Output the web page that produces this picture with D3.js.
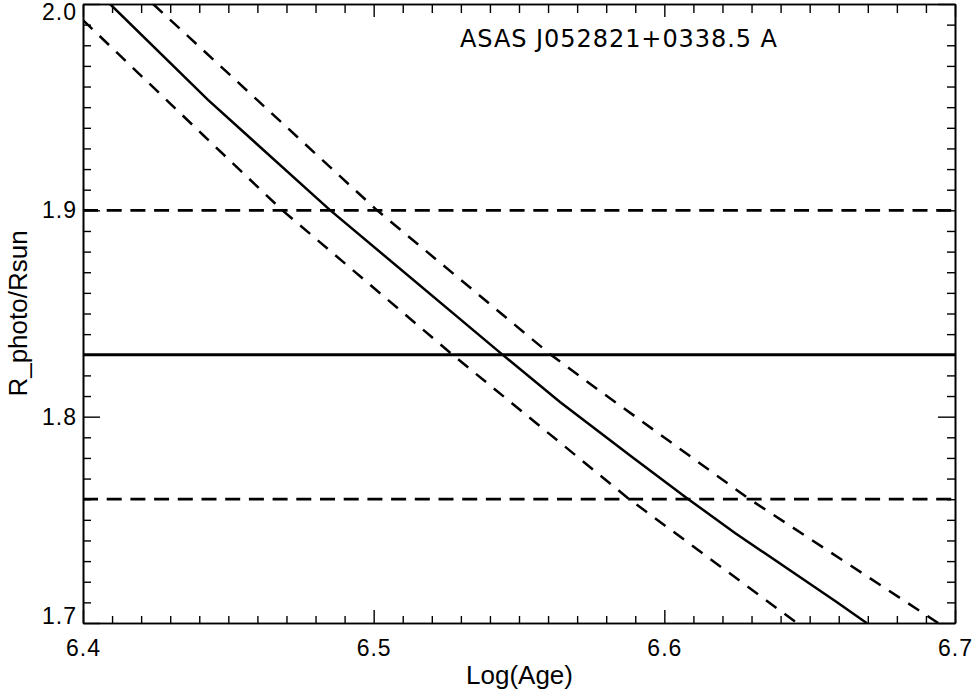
<!DOCTYPE html>
<html>
<head>
<meta charset="utf-8">
<script src="https://cdn.jsdelivr.net/npm/d3@7"></script>
<style>
  html, body { margin: 0; padding: 0; background: #fff; }
  svg { display: block; }
</style>
</head>
<body>
<svg id="chart" width="973" height="692"></svg>
<script>
// ---- data ----
const title = "ASAS J052821+0338.5 A";
const xLabel = "Log(Age)";
const yLabel = "R_photo/Rsun";
const xTickLabels = ["6.4", "6.5", "6.6", "6.7"];
const yTickLabels = ["1.7", "1.8", "1.9", "2.0"];

// model track: log(age) vs radius
const trackAge    = [6.4093, 6.4430, 6.4850, 6.5441, 6.5641, 6.5889, 6.6078, 6.6243, 6.6594, 6.6697];
const trackR      = [2.0000, 1.9535, 1.9001, 1.8303, 1.8071, 1.7804, 1.7605, 1.7436, 1.7101, 1.6999];
// upper / lower bounds of the track
const upperAge    = [6.4241, 6.4599, 6.5011, 6.5607, 6.5727, 6.6288, 6.6942];
const upperR      = [2.0000, 1.9535, 1.9001, 1.8303, 1.8177, 1.7605, 1.7000];
const lowerAge    = [6.4000, 6.4413, 6.4685, 6.5269, 6.5875, 6.6456];
const lowerR      = [1.9922, 1.9365, 1.9001, 1.8303, 1.7605, 1.7000];

// measured radius with errors
const radiusValue = 1.830;
const radiusLow   = 1.760;
const radiusHigh  = 1.900;

// ---- layout ----
const svg = d3.select("#chart");
const L = 83, R = 955, T = 4, B = 623;
const x = d3.scaleLinear().domain([6.4, 6.7]).range([L, R]);
const y = d3.scaleLinear().domain([1.7, 2.0]).range([B, T]);

svg.append("defs").append("clipPath").attr("id", "plotclip")
  .append("rect").attr("x", L).attr("y", T).attr("width", R - L).attr("height", B - T);

const plot = svg.append("g").attr("clip-path", "url(#plotclip)");
const line = d3.line().x(d => x(d[0])).y(d => y(d[1]));

const zip = (a, b) => a.map((v, i) => [v, b[i]]);

// horizontal measurement lines
[[radiusValue, null], [radiusLow, "15,8.7"], [radiusHigh, "15,8.7"]].forEach(([v, dash]) => {
  plot.append("path")
    .attr("d", line([[6.4, v], [6.7, v]]))
    .attr("fill", "none").attr("stroke", "#000")
    .attr("stroke-width", 2.8)
    .attr("stroke-dasharray", dash);
});

// tracks
plot.append("path").attr("d", line(zip(trackAge, trackR)))
  .attr("fill", "none").attr("stroke", "#000").attr("stroke-width", 2.5);
plot.append("path").attr("d", line(zip(upperAge, upperR)))
  .attr("fill", "none").attr("stroke", "#000").attr("stroke-width", 2.5)
  .attr("stroke-dasharray", "13,10");
plot.append("path").attr("d", line(zip(lowerAge, lowerR)))
  .attr("fill", "none").attr("stroke", "#000").attr("stroke-width", 2.5)
  .attr("stroke-dasharray", "13,10");

// ---- axes ----
const xMajor = xTickLabels.map(Number);
const yMajor = yTickLabels.map(Number);
const xMinor = x.ticks(30).filter(v => !xMajor.some(m => Math.abs(m - v) < 1e-9));
const yMinor = y.ticks(30).filter(v => !yMajor.some(m => Math.abs(m - v) < 1e-9));

function styleAxis(g) {
  g.selectAll("path.domain").attr("stroke", "#000").attr("stroke-width", 1.6);
  g.selectAll(".tick line").attr("stroke", "#000").attr("stroke-width", 1.4);
}

const fontTicks = "'Liberation Sans', Arial, sans-serif";

// bottom
const gB = svg.append("g").attr("transform", `translate(0,${B})`)
  .call(d3.axisBottom(x).tickValues(xMajor).tickSize(-13).tickPadding(17)
        .tickFormat((d, i) => xTickLabels[i]).tickSizeOuter(0));
styleAxis(gB);
gB.selectAll("text").attr("font-family", fontTicks).attr("font-size", 23)
  .attr("fill", "#000").attr("letter-spacing", "1px");
svg.append("g").attr("transform", `translate(0,${B})`)
  .call(d3.axisBottom(x).tickValues(xMinor).tickSize(-7).tickFormat("").tickSizeOuter(0))
  .call(styleAxis);

// top
svg.append("g").attr("transform", `translate(0,${T})`)
  .call(d3.axisTop(x).tickValues(xMajor).tickSize(-13).tickFormat("").tickSizeOuter(0))
  .call(styleAxis);
svg.append("g").attr("transform", `translate(0,${T})`)
  .call(d3.axisTop(x).tickValues(xMinor).tickSize(-9).tickFormat("").tickSizeOuter(0))
  .call(styleAxis);

// left
const gL = svg.append("g").attr("transform", `translate(${L},0)`)
  .call(d3.axisLeft(y).tickValues(yMajor).tickSize(-17).tickPadding(6)
        .tickFormat((d, i) => yTickLabels[i]).tickSizeOuter(0));
styleAxis(gL);
gL.selectAll("text").attr("font-family", fontTicks).attr("font-size", 23)
  .attr("fill", "#000").attr("letter-spacing", "1px")
  .attr("dy", d => d === 1.7 ? "0em" : "0.32em")
  .attr("transform", d => d === 2.0 ? "translate(0,8.5)" : "");
svg.append("g").attr("transform", `translate(${L},0)`)
  .call(d3.axisLeft(y).tickValues(yMinor).tickSize(-8).tickFormat("").tickSizeOuter(0))
  .call(styleAxis);

// right
svg.append("g").attr("transform", `translate(${R},0)`)
  .call(d3.axisRight(y).tickValues(yMajor).tickSize(-17).tickFormat("").tickSizeOuter(0))
  .call(styleAxis);
svg.append("g").attr("transform", `translate(${R},0)`)
  .call(d3.axisRight(y).tickValues(yMinor).tickSize(-8).tickFormat("").tickSizeOuter(0))
  .call(styleAxis);

// ---- titles ----
svg.append("text")
  .attr("x", 460).attr("y", 47)
  .attr("font-family", "'DejaVu Sans', sans-serif")
  .attr("font-size", 24)
  .attr("fill", "#000")
  .attr("textLength", 317).attr("lengthAdjust", "spacing")
  .text(title);

svg.append("text")
  .attr("x", (L + R) / 2 + 0.5).attr("y", 684)
  .attr("text-anchor", "middle")
  .attr("font-family", fontTicks).attr("font-size", 26)
  .attr("fill", "#000")
  .text(xLabel);

svg.append("text")
  .attr("transform", `translate(27,${(T + B) / 2}) rotate(-90)`)
  .attr("text-anchor", "middle")
  .attr("font-family", fontTicks).attr("font-size", 26)
  .attr("fill", "#000")
  .text(yLabel);
</script>
</body>
</html>
